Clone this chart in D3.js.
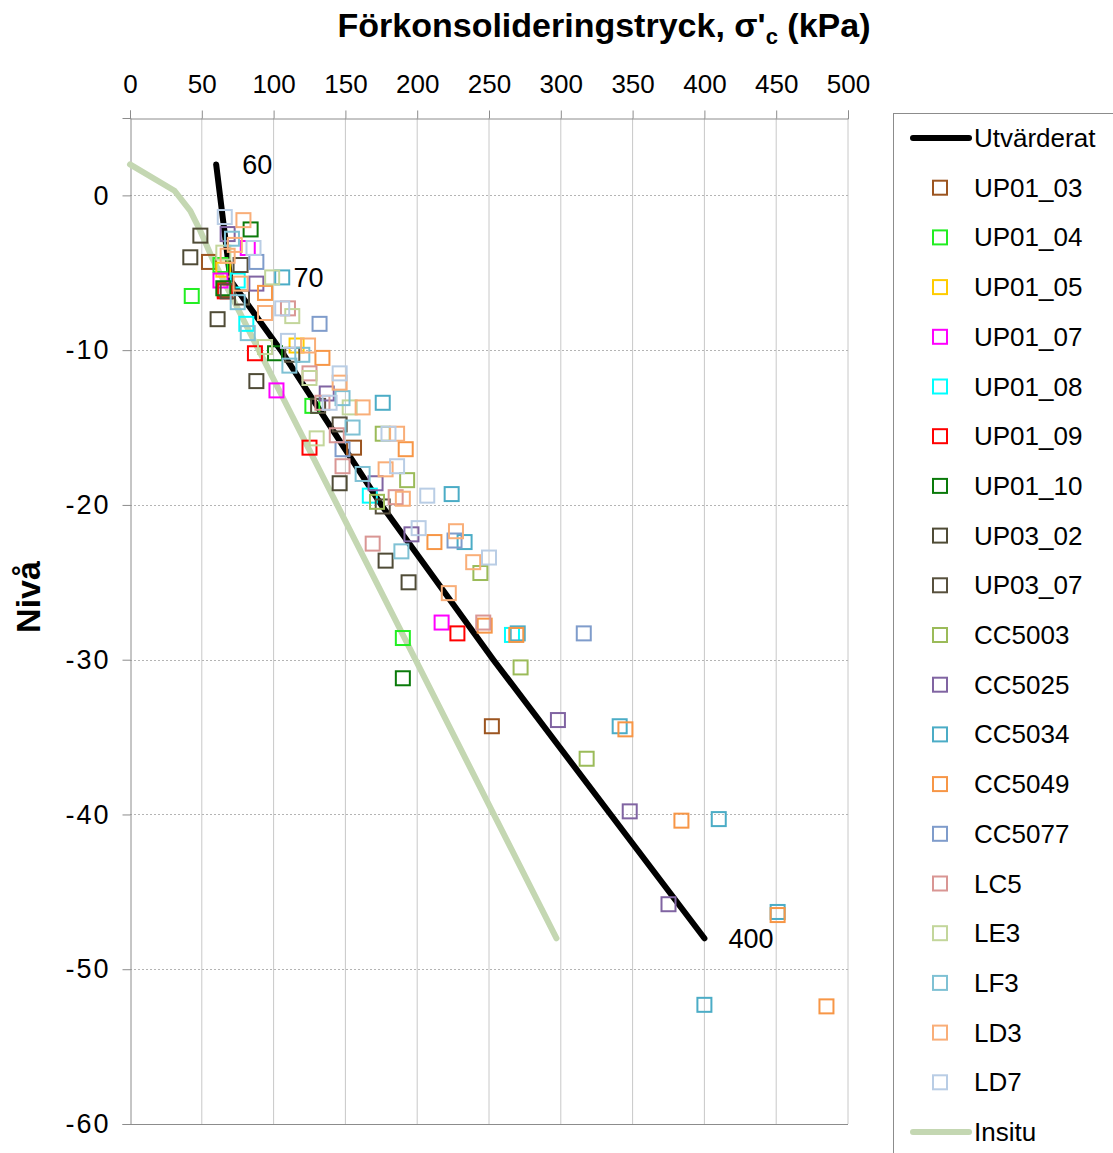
<!DOCTYPE html>
<html>
<head>
<meta charset="utf-8">
<script src="https://cdn.jsdelivr.net/npm/d3@7"></script>
<style>
    body { margin: 0; background: #fff; }
    text { font-family: "Liberation Sans", Arial, sans-serif; }
</style>
</head>
<body>
<svg id="chart" width="1113" height="1153"></svg>
<script>
// preconsolidation pressure (kPa) vs level (m), one array per test series
var up01_03 = [[55, -4.3], [66, -6.1], [156, -16.3], [252, -34.3]];
var up01_04 = [[43, -6.5], [63, -4.5], [127, -13.6], [190, -28.6]];
var up01_05 = [[65, -4.8], [116, -9.7]];
var up01_07 = [[82, -3.4], [63, -5.5], [102, -12.6], [217, -27.6]];
var up01_08 = [[75, -5.5], [81, -8.3], [167, -19.4], [266, -28.4]];
var up01_09 = [[66, -6.2], [87, -10.2], [125, -16.3], [228, -28.3]];
var up01_10 = [[84, -2.2], [65, -6.0], [101, -10.2], [190, -31.2]];
var up03_02 = [[49, -2.6], [42, -4.0], [61, -8.0], [88, -12.0], [146, -18.6], [178, -23.6], [194, -25.0]];
var up03_07 = [[77, -4.5], [68, -6.2], [78, -6.6], [113, -10.3], [131, -13.6], [146, -14.8], [176, -20.1]];
var cc5003 = [[176, -15.4], [193, -18.4], [244, -24.4], [272, -30.5], [318, -36.4], [172, -19.8]];
var cc5025 = [[68, -2.5], [88, -5.7], [137, -12.8], [171, -18.6], [196, -21.9], [298, -33.9], [348, -39.8], [375, -45.8]];
var cc5034 = [[106, -5.3], [176, -13.4], [224, -19.3], [233, -22.4], [270, -28.3], [341, -34.3], [410, -40.3], [451, -46.3], [400, -52.3]];
var cc5049 = [[94, -6.3], [134, -10.5], [192, -16.4], [212, -22.4], [247, -27.8], [269, -28.4], [345, -34.5], [384, -40.4], [451, -46.5], [485, -52.4]];
var cc5077 = [[88, -4.3], [132, -8.3], [148, -16.4], [226, -22.3], [316, -28.3]];
var lc5 = [[110, -7.3], [125, -11.5], [134, -13.4], [144, -15.5], [148, -17.5], [169, -22.5], [185, -19.5], [246, -27.6]];
var le3 = [[65, -3.7], [99, -5.3], [113, -7.8], [94, -9.8], [125, -11.8], [130, -15.7], [153, -13.7]];
var lf3 = [[71, -2.8], [75, -6.9], [82, -8.9], [111, -11.0], [120, -10.3], [148, -13.1], [155, -15.0], [162, -18.0], [189, -23.0]];
var ld3 = [[79, -1.6], [73, -3.2], [68, -3.9], [77, -5.7], [94, -7.6], [124, -9.7], [146, -12.1], [162, -13.7], [186, -15.4], [178, -17.7], [190, -19.6], [227, -21.7], [239, -23.7], [222, -25.7]];
var ld7 = [[66, -1.4], [86, -3.4], [106, -7.3], [110, -9.4], [146, -11.5], [139, -13.4], [180, -15.4], [186, -17.5], [207, -19.4], [201, -21.5], [250, -23.4]];

// evaluated profile and in-situ effective stress
var utvarderat = [[60, 2], [70, -5.5], [105, -10], [175, -20], [253, -30], [400, -48]];
var insitu = [[0, 2], [31, 0.3], [42, -1], [49, -2.3], [57, -4], [297, -48]];
var profileLabels = [[60, 2, '60'], [70, -5.5, '70'], [400, -48, '400']];

var xTicks = [0, 50, 100, 150, 200, 250, 300, 350, 400, 450, 500];
var yTicks = [0, -10, -20, -30, -40, -50, -60];

var seriesNames = ['UP01_03', 'UP01_04', 'UP01_05', 'UP01_07', 'UP01_08', 'UP01_09', 'UP01_10', 'UP03_02', 'UP03_07',
    'CC5003', 'CC5025', 'CC5034', 'CC5049', 'CC5077', 'LC5', 'LE3', 'LF3', 'LD3', 'LD7'];
var seriesData = [up01_03, up01_04, up01_05, up01_07, up01_08, up01_09, up01_10, up03_02, up03_07,
    cc5003, cc5025, cc5034, cc5049, cc5077, lc5, le3, lf3, ld3, ld7];
var seriesColors = ['#9c5520', '#22ee22', '#ffcc00', '#ff00ff', '#00ffff', '#ff0000', '#0a7a0a', '#4f4b36', '#57503d',
    '#9bbb59', '#8064a2', '#4bacc6', '#f79646', '#7f9ccb', '#d99694', '#c3d69b', '#7fc1d4', '#f9ae78', '#b9cde5'];

(function () {
    var svg = d3.select('#chart');
    var left = 130, right = 848, top = 118, bottom = 1124;

    var x = d3.scaleLinear().domain([0, 500]).range([left, right]);
    var y = d3.scaleLinear().domain([5, -60]).range([top, bottom]);

    //region grid
    var grid = svg.append('g');
    grid.selectAll('line.vg').data(xTicks.slice(1)).enter().append('line')
        .attr('x1', function (d) { return x(d); }).attr('x2', function (d) { return x(d); })
        .attr('y1', top).attr('y2', bottom)
        .attr('stroke', '#c8c8c8').attr('stroke-width', 1);
    grid.selectAll('line.hg').data(yTicks.slice(0, -1)).enter().append('line')
        .attr('x1', left).attr('x2', right)
        .attr('y1', function (d) { return Math.round(y(d)) + 0.5; }).attr('y2', function (d) { return Math.round(y(d)) + 0.5; })
        .attr('stroke', '#b4b4b4').attr('stroke-width', 1).attr('stroke-dasharray', '2,2');
    grid.append('line').attr('x1', left).attr('x2', right).attr('y1', bottom + 0.5).attr('y2', bottom + 0.5)
        .attr('stroke', '#8c8c8c');
    //endregion

    //region axes
    var fmt = function (d) { return String(d); }; // plain hyphen for negatives
    var xAxis = svg.append('g').attr('transform', 'translate(0,' + (top + 0.5) + ')')
        .call(d3.axisTop(x).tickValues(xTicks).tickSize(8).tickPadding(18).tickFormat(fmt));
    var yAxis = svg.append('g').attr('transform', 'translate(' + (left + 0.5) + ',0)')
        .call(d3.axisLeft(y).tickValues(yTicks).tickSize(8).tickPadding(12).tickFormat(fmt));
    [xAxis, yAxis].forEach(function (ax) {
        ax.select('.domain').attr('stroke', '#8c8c8c');
        ax.selectAll('.tick line').attr('stroke', '#8c8c8c');
        ax.selectAll('.tick text').attr('fill', '#000')
            .style('font-family', '"Liberation Sans", Arial, sans-serif');
    });
    xAxis.selectAll('.tick text').style('font-size', '26px');
    yAxis.selectAll('.tick text').style('font-size', '27px').style('letter-spacing', '2px');
    //endregion

    //region lines
    var line = d3.line().x(function (d) { return x(d[0]); }).y(function (d) { return y(d[1]); });
    svg.append('path').datum(insitu).attr('d', line)
        .attr('fill', 'none').attr('stroke', '#c4d7b2').attr('stroke-width', 6)
        .attr('stroke-linecap', 'round').attr('stroke-linejoin', 'round');
    svg.append('path').datum(utvarderat).attr('d', line)
        .attr('fill', 'none').attr('stroke', '#000').attr('stroke-width', 6)
        .attr('stroke-linecap', 'round').attr('stroke-linejoin', 'round');
    //endregion

    //region markers
    var msize = 14;
    seriesData.forEach(function (pts, i) {
        svg.append('g').selectAll('rect').data(pts).enter().append('rect')
            .attr('x', function (d) { return x(d[0]) - msize / 2; })
            .attr('y', function (d) { return y(d[1]) - msize / 2; })
            .attr('width', msize).attr('height', msize)
            .attr('fill', 'none').attr('stroke', seriesColors[i]).attr('stroke-width', 2);
    });
    //endregion

    // value labels on the evaluated profile, nudged off the line
    var labelShift = {'60': [26, 10], '70': [63, 6], '400': [24, 10]};
    svg.selectAll('text.plab').data(profileLabels).enter().append('text')
        .attr('x', function (d) { return x(d[0]) + labelShift[d[2]][0]; })
        .attr('y', function (d) { return y(d[1]) + labelShift[d[2]][1]; })
        .style('font-size', '27px').text(function (d) { return d[2]; });

    //region titles
    var title = svg.append('text').attr('x', 604).attr('y', 37).attr('text-anchor', 'middle')
        .style('font-size', '34px').style('font-weight', 'bold');
    title.append('tspan').text("Förkonsolideringstryck, σ'");
    title.append('tspan').attr('dy', 7).style('font-size', '22px').text('c');
    title.append('tspan').attr('dy', -7).text(' (kPa)');

    svg.append('text').attr('transform', 'translate(40,597) rotate(-90)').attr('text-anchor', 'middle')
        .style('font-size', '34px').style('font-weight', 'bold').text('Nivå');
    //endregion

    //region legend
    var lg = svg.append('g');
    lg.append('rect').attr('x', 893.5).attr('y', 113.5).attr('width', 240).attr('height', 1060)
        .attr('fill', '#fff').attr('stroke', '#8c8c8c');
    var rowY = function (i) { return 138 + i * 49.7; };
    var addLineItem = function (i, label, color) {
        lg.append('line').attr('x1', 913).attr('x2', 969).attr('y1', rowY(i)).attr('y2', rowY(i))
            .attr('stroke', color).attr('stroke-width', 6).attr('stroke-linecap', 'round');
        lg.append('text').attr('x', 974).attr('y', rowY(i) + 9).style('font-size', '26px').text(label);
    };
    addLineItem(0, 'Utvärderat', '#000');
    seriesNames.forEach(function (name, i) {
        var cy = rowY(i + 1);
        lg.append('rect').attr('x', 933).attr('y', cy - 7).attr('width', 14).attr('height', 14)
            .attr('fill', 'none').attr('stroke', seriesColors[i]).attr('stroke-width', 2);
        lg.append('text').attr('x', 974).attr('y', cy + 9).style('font-size', '26px').text(name);
    });
    addLineItem(seriesNames.length + 1, 'Insitu', '#c4d7b2');
    //endregion
})();
</script>
</body>
</html>
